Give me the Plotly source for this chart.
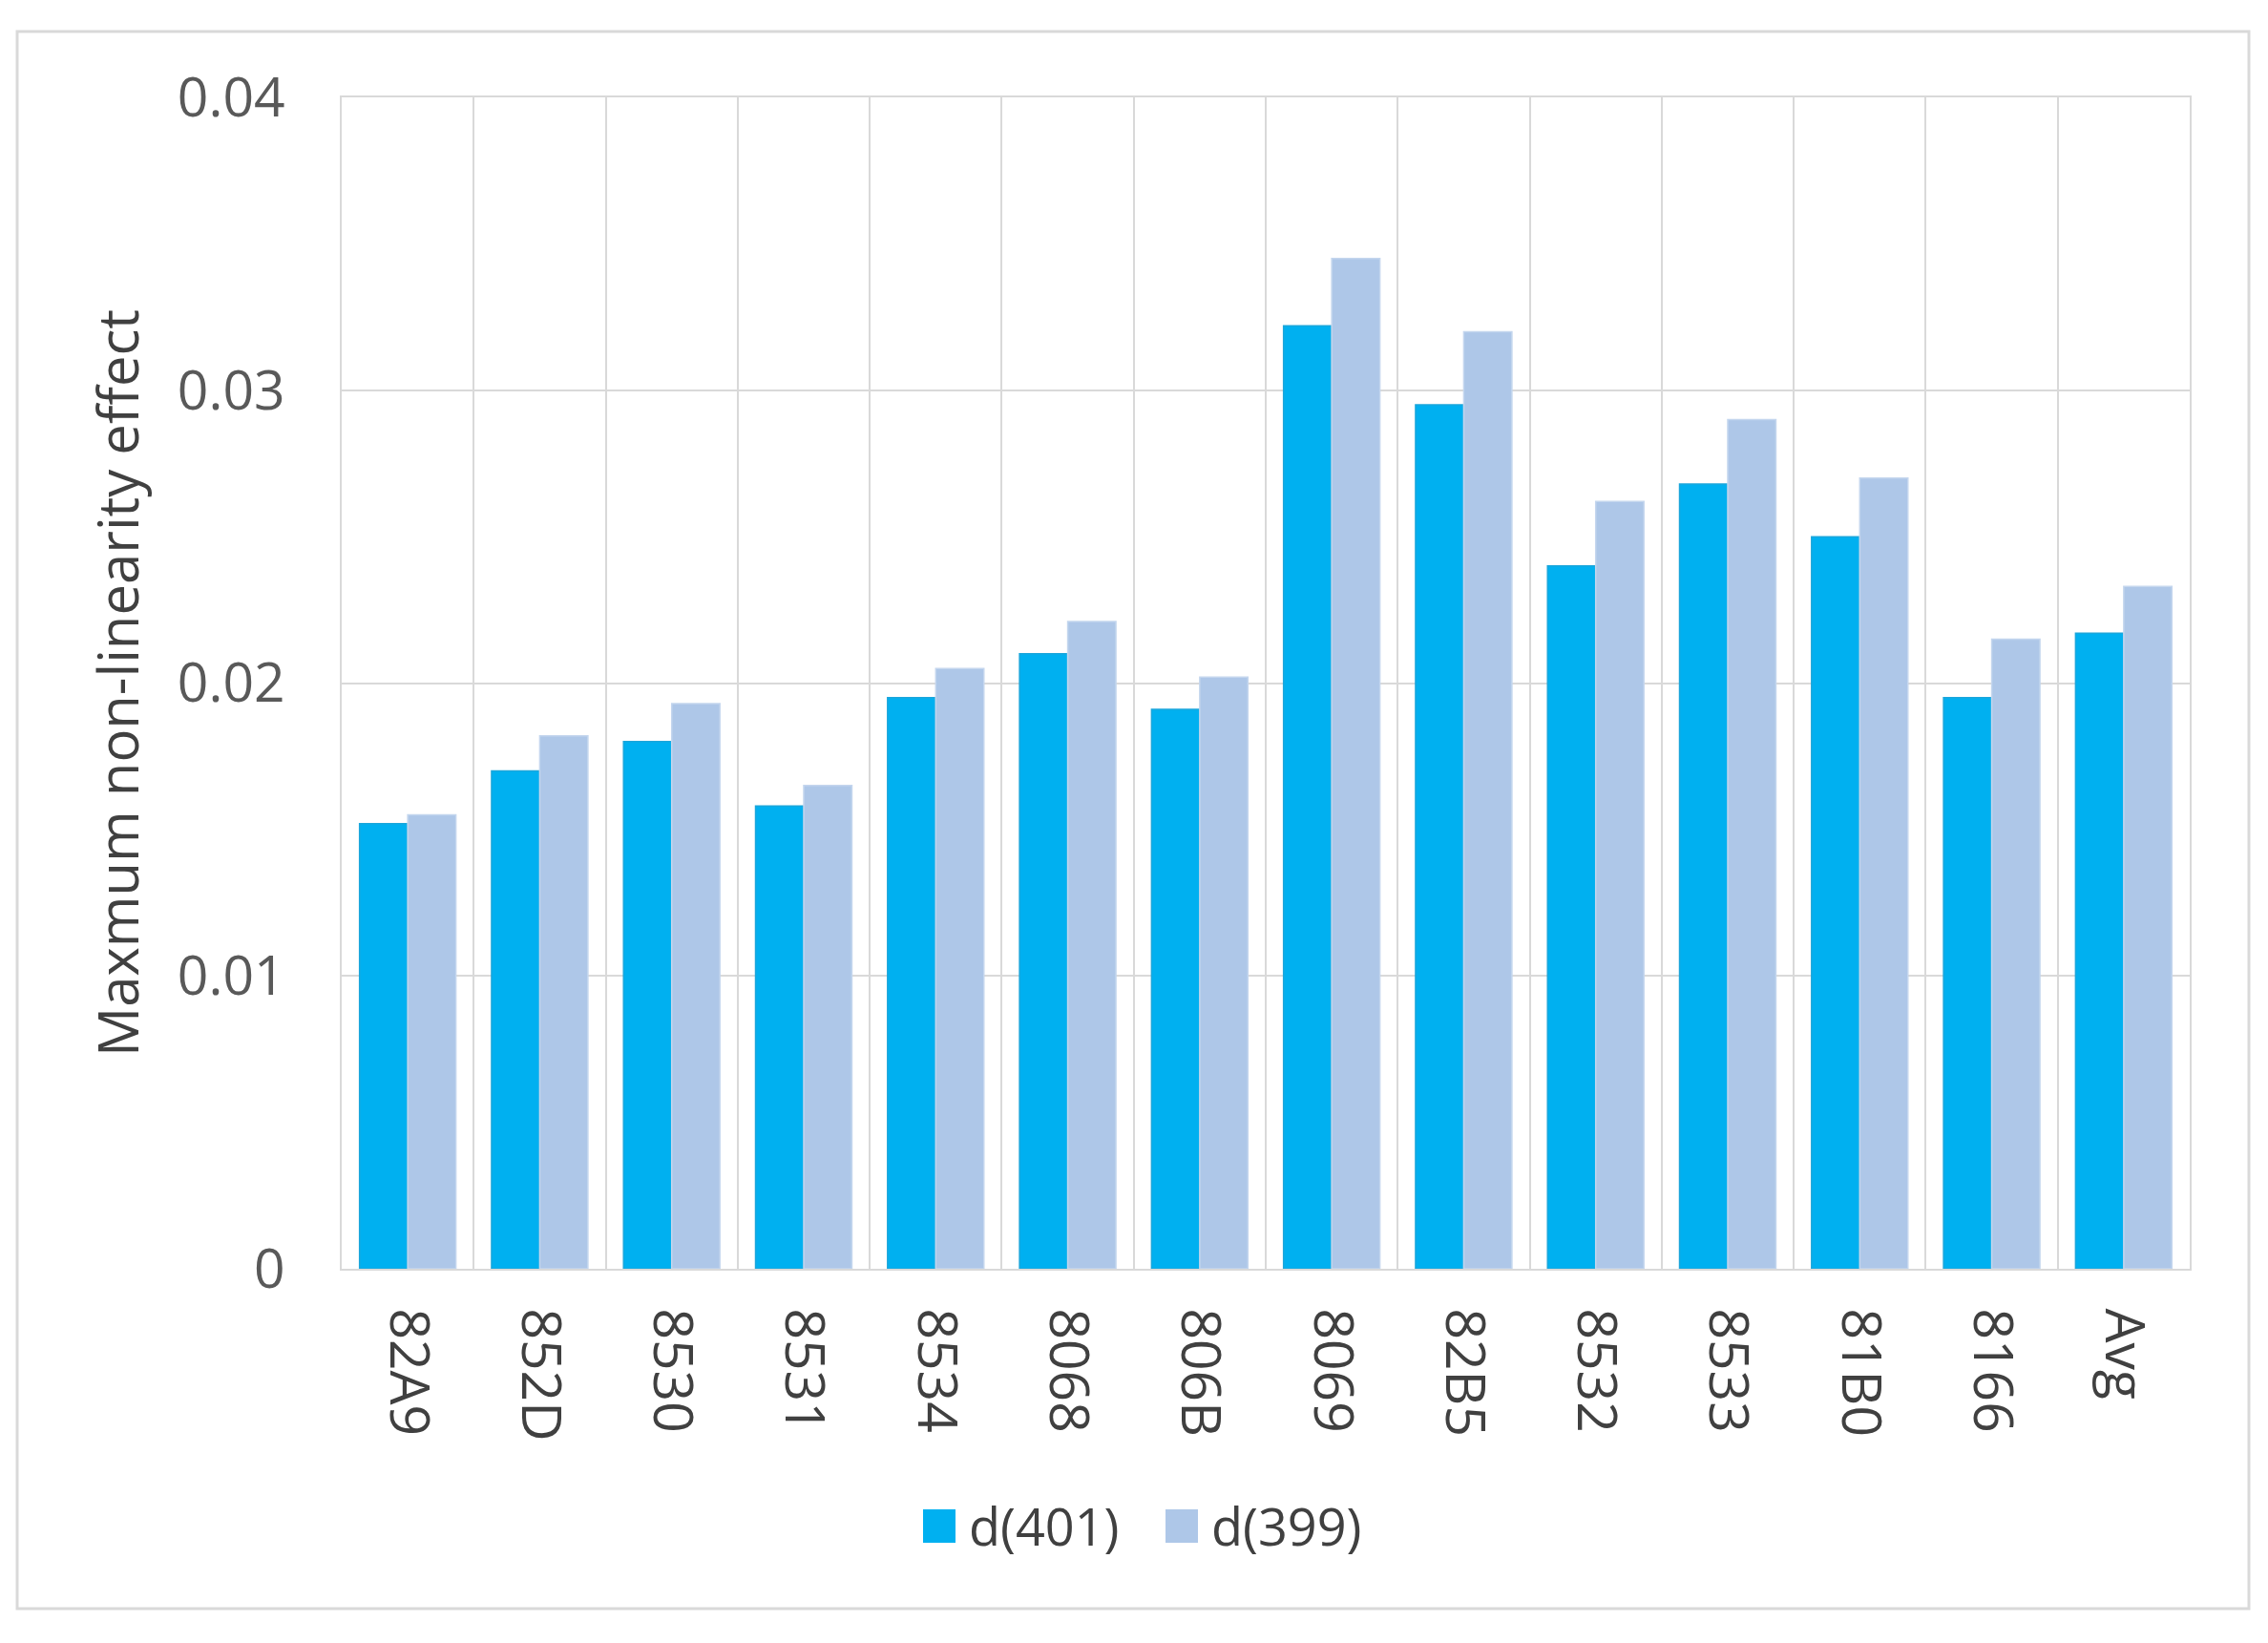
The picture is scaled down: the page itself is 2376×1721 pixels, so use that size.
import plotly.graph_objects as go

categories = ["82A9", "852D", "8530", "8531", "8534", "8068", "806B",
              "8069", "82B5", "8532", "8533", "81B0", "8166", "Avg"]
d401 = [0.0152, 0.0170, 0.0180, 0.0158, 0.0195, 0.0210, 0.0191,
        0.0322, 0.0295, 0.0240, 0.0268, 0.0250, 0.0195, 0.0217]
d399 = [0.0155, 0.0182, 0.0193, 0.0165, 0.0205, 0.0221, 0.0202,
        0.0345, 0.0320, 0.0262, 0.0290, 0.0270, 0.0215, 0.0233]
series_names = ["d(401)", "d(399)"]
series_colors = ["#00B0F0", "#AEC7E8"]
y_tickvals = [0, 0.01, 0.02, 0.03, 0.04]
y_ticktext = ["0", "0.01", "0.02", "0.03", "0.04"]

FONT = "Open Sans"
fig = go.Figure()
fig.add_trace(go.Bar(x=categories, y=d401, name=series_names[0], showlegend=False,
                     marker=dict(color=series_colors[0], line=dict(color="#1BA6DB", width=1.5))))
fig.add_trace(go.Bar(x=categories, y=d399, name=series_names[1], showlegend=False,
                     marker=dict(color=series_colors[1], line=dict(color="#C4D6EE", width=1.5))))

OFF = 8  # page offset of the plot div
W, H = 2376 - OFF, 1721 - OFF
# plot area in screen pixels
PX0, PX1, PY0, PY1 = 358, 2294, 102, 1329
L, T = PX0 - OFF, PY0 - OFF
R, B = W - (PX1 - OFF), H - (PY1 - OFF)
pw, ph = PX1 - PX0, PY1 - PY0


def px(sx):
    return (sx - PX0) / pw


def py(sy):
    return (PY1 - sy) / ph


shapes = [dict(type="rect", xref="paper", yref="paper",
               x0=px(18), x1=px(2356), y0=py(1685), y1=py(33),
               line=dict(color="#D9D9D9", width=3), fillcolor="rgba(0,0,0,0)", layer="below")]
annotations = []
legend_sq_x = [967, 1221]
for i, name in enumerate(series_names):
    sx = legend_sq_x[i]
    shapes.append(dict(type="rect", xref="paper", yref="paper",
                       x0=px(sx), x1=px(sx + 34), y0=py(1616), y1=py(1581),
                       line=dict(width=0), fillcolor=series_colors[i]))
    annotations.append(dict(text=name, xref="paper", yref="paper", x=px(sx + 46), y=py(1598),
                            xanchor="left", yanchor="middle", showarrow=False,
                            font=dict(size=54, color="#404040", family=FONT)))

fig.update_layout(
    width=W, height=H,
    margin=dict(l=L, r=R, t=T, b=B),
    paper_bgcolor="white", plot_bgcolor="white",
    barmode="group", bargap=0.27, bargroupgap=0,
    font=dict(family=FONT, color="#595959"),
    showlegend=False,
    shapes=shapes, annotations=annotations,
)
fig.update_xaxes(
    type="category", tickson="boundaries", showgrid=True, gridcolor="#D9D9D9", gridwidth=2,
    showline=True, linecolor="#D9D9D9", linewidth=2, mirror=True,
    ticks="", tickangle=90, ticklabelstandoff=28,
    tickfont=dict(size=57, color="#404040", family=FONT),
)
fig.update_yaxes(
    range=[0, 0.04], tickvals=y_tickvals, ticktext=y_ticktext,
    showgrid=True, gridcolor="#D9D9D9", gridwidth=2, zeroline=False,
    showline=True, linecolor="#D9D9D9", linewidth=2, mirror=True,
    ticks="", ticklabelstandoff=46,
    tickfont=dict(size=57, color="#595959", family=FONT),
    title=dict(text="Maxmum non-linearity effect", standoff=22,
               font=dict(size=58, color="#404040", family=FONT)),
)
fig.write_html("out.html")
